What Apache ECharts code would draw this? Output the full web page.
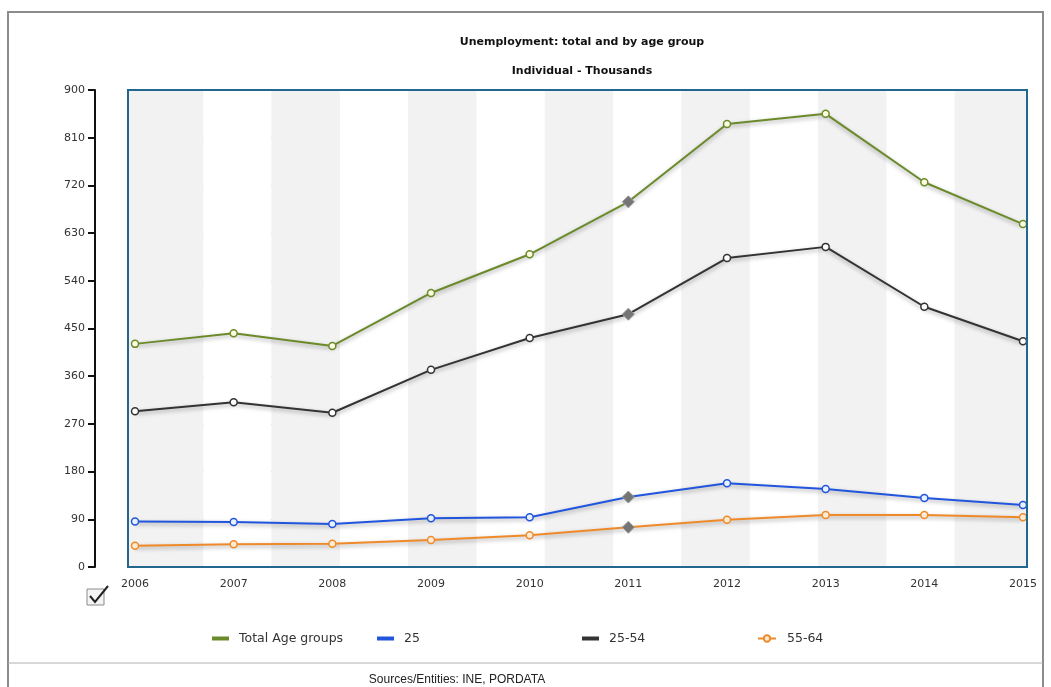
<!DOCTYPE html>
<html>
<head>
<meta charset="utf-8">
<script src="https://cdn.jsdelivr.net/npm/echarts@6/dist/echarts.min.js"></script>
<style>
html,body{margin:0;padding:0;background:#fff;}
#chart{width:1051px;height:687px;}
</style>
</head>
<body>
<div id="chart"></div>
<script>
// ---- data ----
const years = ['2006','2007','2008','2009','2010','2011','2012','2013','2014','2015'];
const totalAgeGroups = [421, 441, 417, 517, 590, 689, 836, 855, 726, 647];
const under25 = [86, 85, 81, 92, 94, 132, 158, 147, 130, 117];
const age25to54 = [294, 311, 291, 372, 432, 477, 583, 604, 491, 426];
const age55to64 = [40, 43, 44, 51, 60, 75, 89, 98, 98, 94];
const yTicks = [0, 90, 180, 270, 360, 450, 540, 630, 720, 810, 900];
const highlightYear = '2011';

const titleText = 'Unemployment: total and by age group';
const subtitleText = 'Individual - Thousands';
const sourceText = 'Sources/Entities: INE, PORDATA';

const FONT = '"DejaVu Sans", Verdana, sans-serif';
const FRAME = '#22688e';

function buildData(values) {
  return values.map((v, i) => {
    if (years[i] === highlightYear) {
      return {
        value: v,
        symbol: 'diamond',
        symbolSize: 12,
        itemStyle: { color: '#757575', borderColor: '#9a9a9a', borderWidth: 1 }
      };
    }
    return v;
  });
}

function lineSeries(name, values, color, fill) {
  return {
    name: name,
    type: 'line',
    xAxisIndex: 0,
    yAxisIndex: 0,
    data: buildData(values),
    symbol: 'circle',
    symbolSize: 7,
    showSymbol: true,
    z: 5,
    lineStyle: {
      color: color, width: 2,
      shadowColor: 'rgba(0,0,0,0.35)', shadowBlur: 4, shadowOffsetY: 2
    },
    itemStyle: { color: fill, borderColor: color, borderWidth: 1.5 },
    emphasis: { disabled: true }
  };
}

const chart = echarts.init(document.getElementById('chart'), null, { renderer: 'canvas' });

const legendBase = {
  top: 627,
  itemWidth: 15,
  itemHeight: 2,
  textStyle: { fontFamily: FONT, fontSize: 12.5, color: '#333', padding: [0, 0, 0, 6] },
  selectedMode: false
};

const option = {
  animation: false,
  backgroundColor: '#fff',
  title: [
    { text: titleText, left: 577, textAlign: 'center', top: 32,
      textStyle: { fontFamily: FONT, fontSize: 11, fontWeight: 'bold', color: '#111' } },
    { text: subtitleText, left: 577, textAlign: 'center', top: 61,
      textStyle: { fontFamily: FONT, fontSize: 11, fontWeight: 'bold', color: '#111' } }
  ],
  legend: [
    Object.assign({}, legendBase, { left: 207, data: [{ name: 'Total Age groups', icon: 'rect', itemStyle: { color: '#6b8a2a' } }] }),
    Object.assign({}, legendBase, { left: 372, data: [{ name: '25', icon: 'rect', itemStyle: { color: '#2255dd' } }] }),
    Object.assign({}, legendBase, { left: 577, data: [{ name: '25-54', icon: 'rect', itemStyle: { color: '#333' } }] }),
    Object.assign({}, legendBase, { left: 752, itemWidth: 18, itemHeight: 8,
      data: [{ name: '55-64' }] })
  ],
  grid: [
    { left: 128, right: 24, top: 90, bottom: 120, show: true, z: -1,
      backgroundColor: '#f2f2f2', borderWidth: 0 },
    { left: 135, right: 28, top: 90, bottom: 120 },
    { left: 128, right: 24, top: 90, bottom: 120, show: true, z: 10,
      backgroundColor: 'transparent', borderColor: FRAME, borderWidth: 2 }
  ],
  xAxis: [
    {
      type: 'category', gridIndex: 1, data: years, boundaryGap: false,
      axisLine: { show: false, onZero: false }, axisTick: { show: false },
      axisLabel: { margin: 12, fontFamily: FONT, fontSize: 11, color: '#333' },
      splitLine: { show: false }
    },
    {
      type: 'value', gridIndex: 1, position: 'top', min: 0, max: 13, interval: 1,
      axisLine: { show: false, onZero: false }, axisTick: { show: false }, axisLabel: { show: false },
      splitLine: { show: false },
      splitArea: { show: true, areaStyle: { color: ['#f2f2f2', '#ffffff'] } }
    }
  ],
  yAxis: [
    {
      type: 'value', gridIndex: 1, position: 'left', min: yTicks[0], max: yTicks[yTicks.length - 1],
      interval: yTicks[1] - yTicks[0], offset: 40,
      axisLine: { show: true, onZero: false, lineStyle: { color: '#111', width: 2 } },
      axisTick: { show: true, inside: false, length: 7, lineStyle: { color: '#111', width: 2 } },
      axisLabel: { margin: 10, fontFamily: FONT, fontSize: 11, color: '#333' },
      splitLine: { show: true, showMinLine: false, showMaxLine: false,
        lineStyle: { color: '#aaa', type: [1, 3], width: 1 } }
    }
  ],
  series: [
    lineSeries('Total Age groups', totalAgeGroups, '#6b8a2a', '#fbfbe0'),
    lineSeries('25', under25, '#2255dd', '#e8f2ff'),
    lineSeries('25-54', age25to54, '#333333', '#ffffff'),
    lineSeries('55-64', age55to64, '#ef8a2a', '#fdebd3')
  ],
  graphic: [
    { type: 'polyline', shape: { points: [[8, 687], [8, 12], [1043, 12], [1043, 687]] },
      style: { stroke: '#8c8c8c', lineWidth: 2, fill: null }, silent: true },
    { type: 'line', shape: { x1: 8, y1: 663, x2: 1043, y2: 663 },
      style: { stroke: '#b0b0b0', lineWidth: 1 }, silent: true },
    { type: 'text', x: 457, y: 680,
      style: { text: sourceText, fontFamily: '"Liberation Sans", Arial, sans-serif', fontSize: 12,
        fill: '#222', align: 'center', verticalAlign: 'middle' }, silent: true },
    { type: 'rect', shape: { x: 87, y: 589, width: 17, height: 16 },
      style: { fill: '#f4f4f4', stroke: '#8a8a8a', lineWidth: 1 }, silent: true },
    { type: 'polyline', shape: { points: [[90, 596], [95, 602], [108, 586]] },
      style: { stroke: '#222', lineWidth: 2, fill: null }, silent: true }
  ]
};

chart.setOption(option);
</script>
</body>
</html>
